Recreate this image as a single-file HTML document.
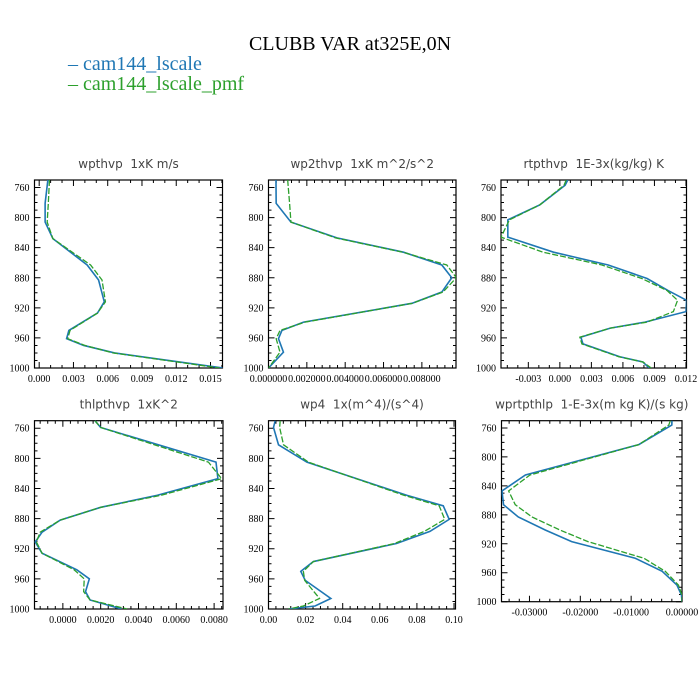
<!DOCTYPE html>
<html><head><meta charset="utf-8"><style>
html,body{margin:0;padding:0;background:#fff;}
svg{display:block;}
.tl{font-family:"DejaVu Sans","Liberation Sans",sans-serif;font-size:12px;fill:#444;white-space:pre;}
.tk{font-family:"Liberation Serif",serif;font-size:10px;fill:#000;}
</style></head><body>
<svg id="chart" width="700" height="700" viewBox="0 0 700 700" xmlns="http://www.w3.org/2000/svg">
<text x="350" y="50" text-anchor="middle" font-family="Liberation Serif, serif" font-size="20" fill="#000">CLUBB VAR at325E,0N</text>
<g>
<text x="68" y="70" font-family="Liberation Serif, serif" font-size="20" fill="#1f77b4">– cam144_lscale</text>
<text x="68" y="90" font-family="Liberation Serif, serif" font-size="20" fill="#2ca02c">– cam144_lscale_pmf</text>
</g>
<g id="panels"></g>
</svg>
<script>
// ---- data (pressure levels hPa, values) ----
const p1Lev = [750,781,806,828,863,883,912,927,950,961,970,980,1000];
const p1Blue = [0.00076,0.00052,0.00052,0.0012,0.0042,0.0052,0.0057,0.0051,0.0026,0.0024,0.0039,0.0066,0.0161];
const p1Green = [0.0009,0.0008,0.0007,0.0012,0.0045,0.0055,0.0058,0.0051,0.0027,0.0025,0.0040,0.0065,0.0158];

const p2Lev = [750,781,806,827,846,863,880,899,914,939,950,961,979,1000];
const p2Blue = [0.00039,0.0004,0.00117,0.00357,0.00704,0.00904,0.00956,0.00904,0.00748,0.00183,0.0007,0.00052,0.00078,0.0];
const p2Green = [0.0010,0.0011,0.00117,0.0035,0.0070,0.0093,0.0098,0.0091,0.0075,0.0019,0.0006,0.0004,0.0006,0.0];

const p3Lev = [750,757,783,803,826,846,863,881,897,910,925,939,947,959,968,985,992,1000];
const p3Blue = [0.00075,0.0005,-0.0019,-0.00495,-0.00495,-0.0006,0.0046,0.0083,0.0103,0.01206,0.0120,0.0081,0.0048,0.0020,0.0022,0.0057,0.0079,0.0085];
const p3Green = [0.0006,0.0004,-0.0019,-0.0048,-0.0056,-0.0016,0.0040,0.0078,0.0102,0.0112,0.0108,0.0083,0.0048,0.0019,0.0021,0.0056,0.0079,0.0087];

const p4Lev = [750,759,805,827,849,865,882,898,911,926,948,960,977,988,1000];
const p4Blue = [0.0017,0.0020,0.0081,0.0082,0.0050,0.0020,-0.00014,-0.0011,-0.00146,-0.0011,0.00074,0.0014,0.0012,0.00144,0.0031];
const p4Green = [0.0017,0.0020,0.0077,0.0084,0.0052,0.0020,-0.00014,-0.0012,-0.0014,-0.0011,0.0006,0.00113,0.0011,0.00144,0.0034];

const p5Lev = [750,759,782,805,849,863,881,897,913,937,950,962,986,996,1000];
const p5Blue = [0.0036,0.0027,0.0054,0.0207,0.0745,0.0942,0.0974,0.087,0.069,0.0242,0.0174,0.0198,0.0336,0.0251,0.0108];
const p5Green = [0.0063,0.0060,0.0081,0.0215,0.073,0.092,0.095,0.084,0.068,0.0242,0.0188,0.0195,0.0275,0.0188,0.0108];

const p6Lev = [750,756,783,825,847,866,883,901,917,940,958,977,991,1000];
const p6Blue = [-0.00197,-0.002,-0.0085,-0.0308,-0.0354,-0.0351,-0.0322,-0.0269,-0.0217,-0.0092,-0.0039,-0.001,-0.0001,0.0];
const p6Green = [-0.0023,-0.0026,-0.0085,-0.0299,-0.0341,-0.0328,-0.0295,-0.024,-0.0185,-0.0075,-0.0033,-0.0007,0.0,0.0];

const p1Ticks = ["0.000","0.003","0.006","0.009","0.012","0.015"];
const p2Ticks = ["0.000000","0.002000","0.004000","0.006000","0.008000"];
const p3Ticks = ["-0.003","0.000","0.003","0.006","0.009","0.012"];
const p4Ticks = ["0.0000","0.0020","0.0040","0.0060","0.0080"];
const p5Ticks = ["0.00","0.02","0.04","0.06","0.08","0.10"];
const p6Ticks = ["-0.03000","-0.02000","-0.01000","0.00000"];
const yTicks = ["760","800","840","880","920","960","1000"];

const panels = [
 {name:"wpthvp",title:"wpthvp  1xK m/s",box:[34.5,180,222.5,368],dom:[-0.00041,0.01605],lev:p1Lev,b:p1Blue,g:p1Green,ticks:p1Ticks,minor:0.001},
 {name:"wp2thvp",title:"wp2thvp  1xK m^2/s^2",box:[268.5,180,456,368],dom:[0,0.00978],lev:p2Lev,b:p2Blue,g:p2Green,ticks:p2Ticks,minor:0.0004},
 {name:"rtpthvp",title:"rtpthvp  1E-3x(kg/kg) K",box:[501,180,686.5,368],dom:[-0.0056,0.01205],lev:p3Lev,b:p3Blue,g:p3Green,ticks:p3Ticks,minor:0.001},
 {name:"thlpthvp",title:"thlpthvp  1xK^2",box:[34.5,420.7,223,609],dom:[-0.0015,0.00847],lev:p4Lev,b:p4Blue,g:p4Green,ticks:p4Ticks,minor:0.0004},
 {name:"wp4",title:"wp4  1x(m^4)/(s^4)",box:[268.5,420.7,455.5,609],dom:[0,0.1008],lev:p5Lev,b:p5Blue,g:p5Green,ticks:p5Ticks,minor:0.004},
 {name:"wprtpthlp",title:"wprtpthlp  1-E-3x(m kg K)/(s kg)",box:[501.5,420.7,682,601.7],dom:[-0.0355,0],lev:p6Lev,b:p6Blue,g:p6Green,ticks:p6Ticks,minor:0.002}
];
const NS="http://www.w3.org/2000/svg";
const root=document.getElementById('panels');
function mk(tag,attrs,parent){const e=document.createElementNS(NS,tag);for(const k in attrs)e.setAttribute(k,attrs[k]);parent.appendChild(e);return e;}
panels.forEach(P=>{
 const [x0,y0,x1,y1]=P.box;
 const sx=v=>x0+(v-P.dom[0])/(P.dom[1]-P.dom[0])*(x1-x0);
 const sy=p=>y0+(p-750)/250*(y1-y0);
 const g=mk('g',{},root);
 
 
 const t=mk('text',{x:(x0+x1)/2,y:y0-12,'text-anchor':'middle',class:'tl'},g);
 
 
 t.textContent=P.title;
 let d='';
 for(let p=760;p<=1000;p+=10){const y=sy(p);const L=(p%40===0)?6:3;d+=`M${x0} ${y}h${L}M${x1} ${y}h${-L}`;}
 yTicks.forEach(s=>{const y=sy(+s);const tx=mk('text',{x:x0-5,y:y+3.5,'text-anchor':'end',class:'tk'},g);
  
  
  tx.textContent=s;});
 const v0=Math.ceil(P.dom[0]/P.minor-1e-6);
 for(let i=v0;i*P.minor<=P.dom[1]+1e-9;i++){const v=i*P.minor;const x=sx(v);
  const isMaj=P.ticks.some(s=>Math.abs(parseFloat(s)-v)<P.minor*0.1);const L=isMaj?6:3;d+=`M${x} ${y1}v${-L}M${x} ${y0}v${L}`;}
 P.ticks.forEach(s=>{const x=sx(parseFloat(s));const tx=mk('text',{x:x,y:y1+14,'text-anchor':'middle',class:'tk'},g);
  
  
  tx.textContent=s;});
 const tk=mk('path',{d:d,stroke:'#000','stroke-width':1,fill:'none'},g);
 
 
 const fr=mk('rect',{x:x0,y:y0,width:x1-x0,height:y1-y0,fill:'none',stroke:'#000','stroke-width':1.2},g);
 
 
 const clipId='c'+P.name;
 const cp=mk('clipPath',{id:clipId},g);mk('rect',{x:x0,y:y0,width:x1-x0,height:y1-y0},cp);
 const lb=mk('polyline',{points:P.lev.map((p,i)=>sx(P.b[i])+','+sy(p)).join(' '),fill:'none',stroke:'#1f77b4','stroke-width':1.6,'clip-path':`url(#${clipId})`},g);
 
 
 const lg=mk('polyline',{points:P.lev.map((p,i)=>sx(P.g[i])+','+sy(p)).join(' '),fill:'none',stroke:'#2ca02c','stroke-width':1.3,'stroke-dasharray':'6,2','clip-path':`url(#${clipId})`},g);
 
 
});
</script>
</body></html>
